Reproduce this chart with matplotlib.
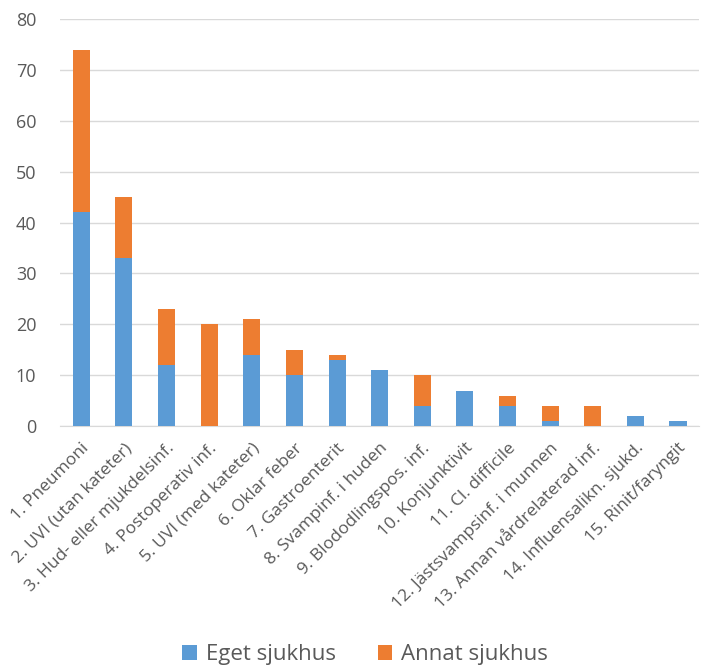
import matplotlib
matplotlib.use("Agg")
import matplotlib.pyplot as plt
import numpy as np

categories = ["1. Pneumoni", "2. UVI (utan kateter)", "3. Hud- eller mjukdelsinf.",
              "4. Postoperativ inf.", "5. UVI (med kateter)", "6. Oklar feber",
              "7. Gastroenterit", "8. Svampinf. i huden", "9. Blododlingspos. inf.",
              "10. Konjunktivit", "11. Cl. difficile", "12. Jästsvampsinf. i munnen",
              "13. Annan vårdrelaterad inf.", "14. Influensalikn. sjukd.", "15. Rinit/faryngit"]
eget = [42, 33, 12, 0, 14, 10, 13, 11, 4, 7, 4, 1, 0, 2, 1]
annat = [32, 12, 11, 20, 7, 5, 1, 0, 6, 0, 2, 3, 4, 0, 0]
series_names = ["Eget sjukhus", "Annat sjukhus"]
yticks = [0, 10, 20, 30, 40, 50, 60, 70, 80]

plt.rcParams['font.family'] = ['Open Sans', 'DejaVu Sans']
fig = plt.figure(figsize=(7.01, 6.68), dpi=100)
ax = fig.add_axes([0.0856, 0.362, 0.912, 0.6096])

x = np.arange(len(categories))
blue = "#5B9BD5"
orange = "#ED7D31"
b1 = ax.bar(x, eget, width=0.4, color=blue, label=series_names[0], zorder=3)
b2 = ax.bar(x, annat, width=0.4, bottom=eget, color=orange, label=series_names[1], zorder=3)

ax.set_xlim(-0.5, len(categories) - 0.5)
ax.set_ylim(0, 80)
ax.set_yticks(yticks)
ax.yaxis.grid(True, color="#D9D9D9", linewidth=1, zorder=0)
for s in ["top", "right", "left"]:
    ax.spines[s].set_visible(False)
ax.spines["bottom"].set_color("#D9D9D9")
ax.tick_params(axis="both", length=0, colors="#595959", labelsize=13)
ax.tick_params(axis="y", pad=17)
ax.tick_params(axis="x", pad=10)
ax.set_xticks(x)
ax.set_xticklabels(categories, rotation=45, ha="right", rotation_mode="anchor", fontsize=12.5, color="#595959")

fig.legend(handles=[b1, b2], labels=series_names, loc="center", bbox_to_anchor=(0.521, 0.02),
           ncol=2, frameon=False, fontsize=16, handlelength=0.65, handleheight=0.65,
           handletextpad=0.4, columnspacing=1.9, labelcolor="#595959")

fig.savefig("out.png", dpi=100)
